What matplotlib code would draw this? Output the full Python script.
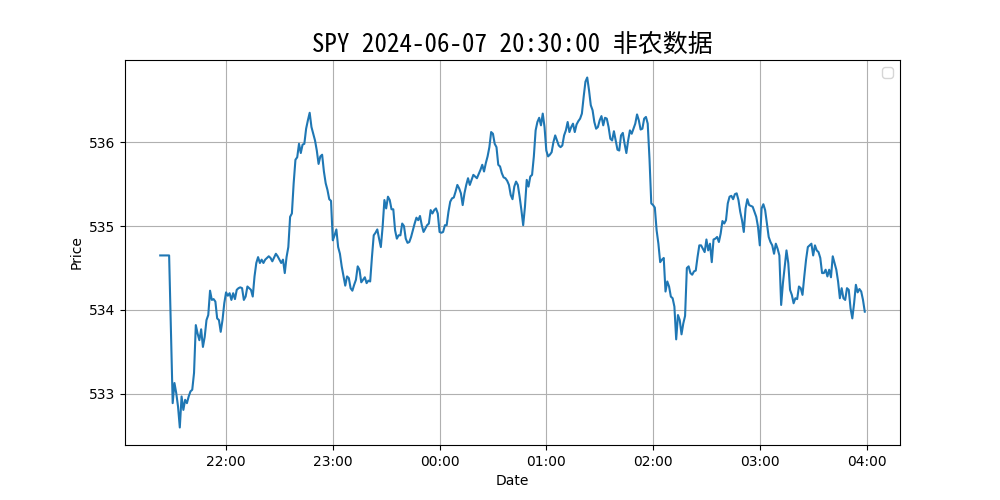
import matplotlib
matplotlib.use("Agg")
import matplotlib.pyplot as plt
import matplotlib.dates as mdates
import pandas as pd

title = "SPY 2024-06-07 20:30:00 非农数据"
x_label = "Date"
y_label = "Price"
base_time = "2024-06-07 22:00"

# minutes relative to 22:00 (Beijing time) on 2024-06-07
minutes_from_2200 = [
    -37, -36, -35, -34, -33, -32, -30, -29, -28, -27, -26, -25, -24, -23, -22, -21, -20, -19, -18, -17,
    -16, -15, -14, -13, -12, -11, -10, -9, -8, -7, -6, -5, -4, -3, -2, -1,
    0, 1, 2, 3, 4, 5, 6, 7, 8, 9, 10, 11, 12, 14, 15, 16, 17, 18, 19, 20,
    21, 22, 23, 24, 25, 26, 28, 29, 30, 31, 32, 33, 34, 35, 36, 37, 38, 39, 40,
    41, 42, 43, 44, 45, 46, 47, 48, 50, 51, 52, 53, 54, 55, 56, 57, 58, 59, 60,
    61, 62, 63, 64, 65, 67, 68, 69, 70, 71, 72, 73, 74, 75, 76, 77, 78, 79, 80,
    81, 82, 83, 84, 85, 86, 87, 88, 89, 90, 91, 92, 93, 94, 95, 96, 97, 98, 99, 100,
    101, 102, 103, 104, 105, 106, 107, 108, 109, 110, 111, 112, 113, 114, 115, 116, 117, 118, 119, 120,
    121, 122, 123, 124, 125, 126, 127, 128, 129, 130, 131, 132, 133, 134, 135, 136, 137, 138, 139, 140,
    141, 142, 143, 144, 145, 146, 147, 148, 149, 150, 151, 152, 153, 154, 155, 156, 157, 158, 159, 160,
    161, 162, 163, 164, 165, 166, 167, 168, 169, 170, 171, 172, 173, 174, 175, 176, 177, 178, 179, 180,
    181, 182, 183, 184, 185, 186, 187, 188, 189, 190, 191, 192, 193, 194, 195, 196, 197, 198, 199, 200,
    201, 202, 203, 204, 205, 206, 207, 208, 209, 210, 211, 212, 213, 214, 215, 216, 217, 218, 219, 220,
    221, 222, 223, 224, 225, 226, 227, 228, 229, 230, 231, 232, 233, 234, 235, 236, 237, 238, 239, 240,
    241, 242, 243, 244, 245, 246, 247, 248, 249, 250, 251, 252, 253, 254, 255, 256, 257, 258, 259, 260,
    261, 262, 263, 264, 265, 266, 267, 268, 269, 270, 271, 272, 273, 274, 275, 276, 277, 278, 279, 280,
    281, 282, 283, 284, 285, 286, 287, 288, 289, 290, 291, 292, 293, 294, 295, 296, 297, 298, 299, 300,
    301, 302, 303, 304, 305, 306, 307, 308, 309, 310, 311, 312, 313, 314, 315, 316, 317, 318, 319, 320,
    321, 322, 323, 324, 325, 326, 327, 328, 329, 330, 331, 332, 333, 334, 335, 336, 337, 338, 339, 340,
    341, 342, 343, 344, 345, 346, 347, 348, 349, 350, 351, 352, 353, 354, 355, 356, 357, 358, 359,
]

prices = [
    534.65, 534.65, 534.65, 534.65, 534.65, 534.65, 532.89, 533.13, 533.01, 532.85, 532.60, 532.97, 532.81, 532.93, 532.89, 532.97, 533.03, 533.05, 533.25, 533.82,
    533.72, 533.64, 533.77, 533.56, 533.68, 533.88, 533.94, 534.23, 534.12, 534.13, 534.10, 533.90, 533.88, 533.74, 533.88, 534.08,
    534.21, 534.17, 534.20, 534.12, 534.20, 534.13, 534.24, 534.26, 534.27, 534.26, 534.12, 534.16, 534.28, 534.24, 534.16, 534.40, 534.56, 534.63, 534.56, 534.60,
    534.56, 534.60, 534.62, 534.64, 534.62, 534.58, 534.67, 534.64, 534.60, 534.56, 534.60, 534.44, 534.63, 534.75, 535.11, 535.15, 535.51, 535.79, 535.82,
    535.98, 535.87, 535.97, 535.98, 536.16, 536.26, 536.35, 536.18, 536.02, 535.90, 535.74, 535.83, 535.85, 535.65, 535.51, 535.43, 535.32, 535.30, 534.83,
    534.89, 534.96, 534.75, 534.67, 534.52, 534.29, 534.40, 534.38, 534.26, 534.23, 534.30, 534.36, 534.52, 534.48, 534.33, 534.36, 534.39, 534.32, 534.35,
    534.34, 534.63, 534.89, 534.92, 534.96, 534.85, 534.75, 534.99, 535.31, 535.21, 535.35, 535.31, 535.20, 535.20, 534.95, 534.85, 534.89, 534.89, 535.03, 535.00,
    534.85, 534.80, 534.81, 534.87, 534.95, 535.03, 535.10, 535.07, 535.12, 535.01, 534.93, 534.97, 535.01, 535.03, 535.19, 535.15, 535.19, 535.21, 535.15, 534.93,
    534.92, 534.93, 535.01, 535.01, 535.17, 535.29, 535.33, 535.34, 535.41, 535.49, 535.45, 535.39, 535.25, 535.39, 535.49, 535.57, 535.49, 535.55, 535.61, 535.59,
    535.57, 535.62, 535.67, 535.73, 535.65, 535.75, 535.83, 535.94, 536.12, 536.10, 535.98, 535.94, 535.73, 535.71, 535.63, 535.58, 535.57, 535.54, 535.49, 535.37,
    535.32, 535.47, 535.53, 535.49, 535.35, 535.19, 535.01, 535.23, 535.55, 535.47, 535.59, 535.61, 535.83, 536.14, 536.24, 536.29, 536.20, 536.34, 536.18, 535.90,
    535.83, 535.85, 535.88, 536.00, 536.08, 536.02, 535.96, 535.94, 535.96, 536.08, 536.14, 536.24, 536.12, 536.18, 536.22, 536.12, 536.21, 536.25, 536.28, 536.34,
    536.54, 536.72, 536.77, 536.62, 536.44, 536.38, 536.24, 536.16, 536.18, 536.26, 536.31, 536.20, 536.29, 536.28, 536.18, 536.04, 536.02, 536.13, 536.02, 535.91,
    535.90, 536.08, 536.11, 535.98, 535.87, 536.02, 536.14, 536.10, 536.16, 536.22, 536.33, 536.26, 536.15, 536.16, 536.28, 536.30, 536.22, 535.80, 535.27, 535.25,
    535.22, 534.95, 534.79, 534.57, 534.60, 534.62, 534.22, 534.34, 534.28, 534.16, 534.14, 534.04, 533.65, 533.94, 533.88, 533.71, 533.84, 533.93, 534.50, 534.52,
    534.44, 534.42, 534.46, 534.47, 534.63, 534.77, 534.77, 534.73, 534.69, 534.84, 534.71, 534.79, 534.57, 534.84, 534.85, 534.87, 534.81, 534.91, 535.06, 535.03,
    535.07, 535.27, 535.35, 535.36, 535.32, 535.38, 535.39, 535.31, 535.17, 535.07, 534.93, 535.21, 535.32, 535.25, 535.24, 535.23, 535.17, 535.11, 534.99, 534.77,
    535.21, 535.26, 535.19, 535.03, 534.87, 534.81, 534.77, 534.67, 534.79, 534.73, 534.65, 534.06, 534.32, 534.52, 534.71, 534.56, 534.24, 534.18, 534.08, 534.14,
    534.13, 534.28, 534.26, 534.18, 534.40, 534.60, 534.75, 534.77, 534.79, 534.65, 534.77, 534.71, 534.69, 534.62, 534.44, 534.44, 534.48, 534.40, 534.48, 534.39,
    534.64, 534.56, 534.48, 534.34, 534.14, 534.26, 534.14, 534.12, 534.26, 534.24, 534.02, 533.90, 534.08, 534.30, 534.21, 534.25, 534.22, 534.12, 533.98,
]

times = pd.Timestamp(base_time) + pd.to_timedelta(minutes_from_2200, unit="min")

fig, ax = plt.subplots(figsize=(10, 5), dpi=100)
ax.plot(times, prices, color="#1f77b4", linewidth=1.5)
ax.set_title(title, fontsize=18,
             family=["Noto Sans Mono CJK SC", "Noto Sans CJK SC", "DejaVu Sans"])
ax.set_xlabel(x_label)
ax.set_ylabel(y_label)
ax.xaxis.set_major_locator(mdates.HourLocator(interval=1))
ax.xaxis.set_major_formatter(mdates.DateFormatter("%H:%M"))
ax.grid(True)
ax.legend(handles=[], loc="upper right")
fig.savefig("out.png", dpi=100)
